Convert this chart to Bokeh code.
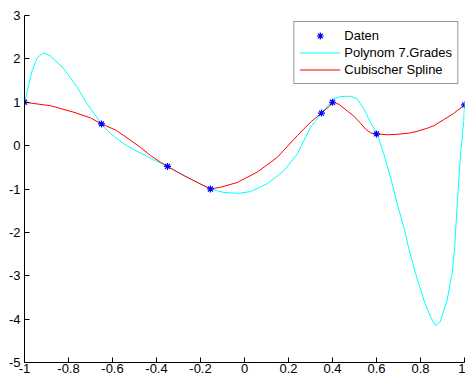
from bokeh.plotting import figure
from bokeh.models import Range1d, FixedTicker, CustomJSTickFormatter, Legend, LegendItem
from bokeh.embed import file_html
from bokeh.resources import INLINE

# Data points
data_x = [-1.0, -0.65, -0.35, -0.155, 0.35, 0.40, 0.60, 1.0]
data_y = [1.0, 0.5, -0.48, -1.0, 0.75, 1.0, 0.27, 0.94]

# Polynomial of degree 7
poly_x = [-1.0, -0.98, -0.965, -0.942, -0.912, -0.882, -0.821, -0.76, -0.715, -0.65,
          -0.62, -0.59, -0.55, -0.5, -0.45, -0.4, -0.35, -0.245, -0.155, -0.094, -0.026,
          0.027, 0.103, 0.179, 0.24, 0.30, 0.35, 0.406, 0.436, 0.482, 0.512,
          0.542, 0.573, 0.603, 0.633, 0.664, 0.694, 0.724, 0.747, 0.777, 0.815,
          0.845, 0.868, 0.89, 0.921, 0.944, 0.955, 0.967, 0.982, 0.997, 1.0]
poly_y = [1.0, 1.42, 1.73, 2.03, 2.14, 2.07, 1.77, 1.34, 0.96, 0.5,
          0.33, 0.2, 0.05, -0.1, -0.23, -0.36, -0.48, -0.77, -1.0, -1.08, -1.1,
          -1.06, -0.88, -0.58, -0.19, 0.42, 0.75, 1.08, 1.13, 1.14, 1.08,
          0.85, 0.54, 0.27, -0.19, -0.73, -1.34, -1.88, -2.38, -2.94, -3.56,
          -3.94, -4.15, -4.06, -3.56, -2.94, -2.38, -1.34, -0.19, 0.58, 0.94]

# Cubic spline
spl_x = [-1.0, -0.882, -0.776, -0.7, -0.65, -0.586, -0.548, -0.473, -0.427, -0.382,
         -0.35, -0.276, -0.155, -0.109, -0.033, 0.058, 0.149, 0.24, 0.30, 0.35,
         0.406, 0.43, 0.467, 0.497, 0.527, 0.55, 0.575, 0.60, 0.65, 0.694,
         0.75, 0.785, 0.83, 0.861, 0.906, 0.95, 1.0]
spl_y = [1.0, 0.92, 0.77, 0.64, 0.5, 0.36, 0.23, -0.04, -0.23, -0.38,
         -0.48, -0.69, -1.0, -0.96, -0.85, -0.61, -0.27, 0.23, 0.54, 0.75,
         1.0, 0.95, 0.8, 0.68, 0.52, 0.38, 0.29, 0.27, 0.25, 0.26,
         0.29, 0.33, 0.40, 0.46, 0.6, 0.74, 0.94]

x_ticks = [-1, -0.8, -0.6, -0.4, -0.2, 0, 0.2, 0.4, 0.6, 0.8, 1]
y_ticks = [-5, -4, -3, -2, -1, 0, 1, 2, 3]

p = figure(width=465, height=376, output_backend="svg", toolbar_location=None,
           x_range=Range1d(-1, 1), y_range=Range1d(-5, 3),
           min_border_left=24, min_border_right=1, min_border_top=15, min_border_bottom=14)
p.outline_line_color = None
p.grid.visible = False
p.background_fill_color = "white"
p.border_fill_color = "white"

fmt = CustomJSTickFormatter(code="var s = Math.round(tick*10)/10; return String(s);")
for ax, ticks in ((p.xaxis[0], x_ticks), (p.yaxis[0], y_ticks)):
    ax.ticker = FixedTicker(ticks=ticks, minor_ticks=[])
    ax.formatter = fmt
    ax.major_tick_in = 5
    ax.major_tick_out = 0
    ax.minor_tick_in = 0
    ax.minor_tick_out = 0
    ax.axis_line_color = "black"
    ax.major_tick_line_color = "black"
    ax.major_label_text_color = "black"
    ax.major_label_text_font = "Liberation Sans"
    ax.major_label_text_font_size = "13px"
p.xaxis[0].major_label_standoff = 1
p.yaxis[0].major_label_standoff = 4

r_poly = p.line(poly_x, poly_y, line_color="#00FFFF", line_width=1)
r_spl = p.line(spl_x, spl_y, line_color="#FF0000", line_width=1)
r_dat = p.scatter(data_x, data_y, marker="asterisk", size=7, line_color="#0000FF", line_width=1.2)

legend = Legend(items=[LegendItem(label="Daten", renderers=[r_dat]),
                       LegendItem(label="Polynom 7.Grades", renderers=[r_poly]),
                       LegendItem(label="Cubischer Spline", renderers=[r_spl])],
                location="top_right")
legend.border_line_color = "#333333"
legend.border_line_width = 1
legend.background_fill_color = "white"
legend.background_fill_alpha = 1
legend.label_text_font = "Liberation Sans"
legend.label_text_font_size = "13px"
legend.label_text_color = "black"
legend.padding = 5
legend.spacing = 0
legend.margin = 6
legend.label_height = 17
legend.glyph_height = 17
legend.glyph_width = 41
legend.label_standoff = 4
p.add_layout(legend)

open("out.html", "w").write(file_html(p, INLINE))
